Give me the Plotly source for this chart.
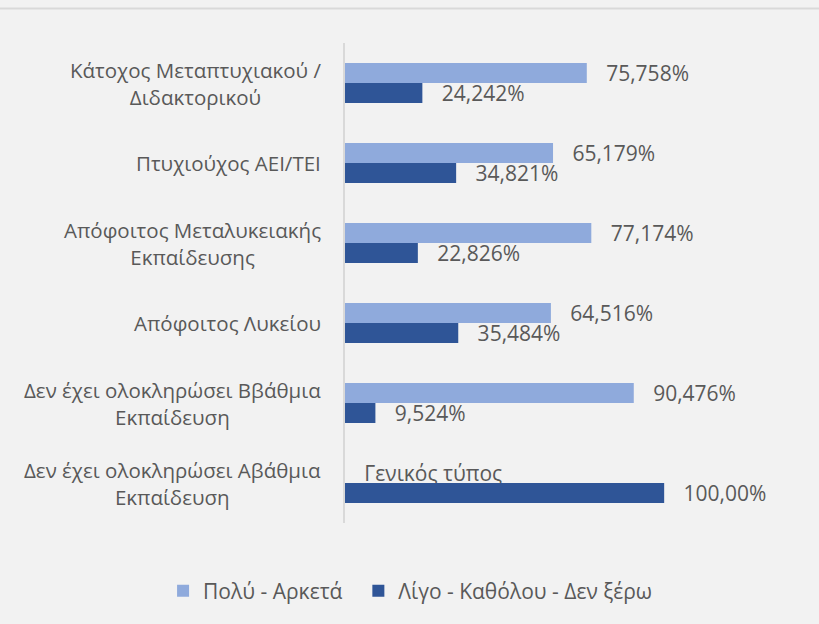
import plotly.graph_objects as go

categories = [
    "Κάτοχος Μεταπτυχιακού /<br>Διδακτορικού",
    "Πτυχιούχος ΑΕΙ/ΤΕΙ",
    "Απόφοιτος Μεταλυκειακής<br>Εκπαίδευσης",
    "Απόφοιτος Λυκείου",
    "Δεν έχει ολοκληρώσει Ββάθμια<br>Εκπαίδευση",
    "Δεν έχει ολοκληρώσει Αβάθμια<br>Εκπαίδευση",
]
cat_keys = ["c1", "c2", "c3", "c4", "c5", "c6"]

series_names = ["Πολύ - Αρκετά", "Λίγο - Καθόλου - Δεν ξέρω"]
values_much = [75.758, 65.179, 77.174, 64.516, 90.476, 0]
values_little = [24.242, 34.821, 22.826, 35.484, 9.524, 100.0]
labels_much = ["75,758%", "65,179%", "77,174%", "64,516%", "90,476%", "Γενικός τύπος"]
labels_little = ["24,242%", "34,821%", "22,826%", "35,484%", "9,524%", "100,00%"]

colors = ["#8FAADC", "#2F5597"]
FONT = "Open Sans"
TXT = "#595959"
pad = "\u00a0\u00a0\u00a0"
legend_pad = ["\u00a0\u00a0", ""]

fig = go.Figure()
for name, vals, labs, col, lp in [
    (series_names[0], values_much, labels_much, colors[0], legend_pad[0]),
    (series_names[1], values_little, labels_little, colors[1], legend_pad[1]),
]:
    fig.add_trace(go.Bar(
        y=cat_keys, x=vals, orientation="h", name=name + lp,
        marker=dict(color=col, line=dict(width=0)),
        text=[pad + t for t in labs], textposition="outside",
        textfont=dict(family=FONT, size=21, color=TXT),
        constraintext="none", cliponaxis=False, hoverinfo="skip",
    ))

for key, lab in zip(cat_keys, categories):
    fig.add_annotation(
        x=0, xref="paper", y=key, yref="y", text=lab, showarrow=False,
        xanchor="right", yanchor="middle", align="center", xshift=-22,
        font=dict(family=FONT, size=20.5, color=TXT),
    )

fig.add_shape(type="line", xref="paper", yref="paper", x0=-2, x1=2,
              y0=1 + 34.5 / 480, y1=1 + 34.5 / 480,
              line=dict(color="#D9D9D9", width=2))

fig.update_layout(
    width=819, height=624,
    margin=dict(l=345, r=91, t=43, b=101),
    paper_bgcolor="#F2F2F2", plot_bgcolor="#F2F2F2",
    barmode="group", bargap=0.5, bargroupgap=0,
    showlegend=True,
    legend=dict(orientation="h", x=-0.475, xanchor="left", y=-0.142, yanchor="middle",
                font=dict(family=FONT, size=21, color=TXT), traceorder="normal",
                itemwidth=30),
    xaxis=dict(range=[0, 120], showgrid=False, zeroline=False, showticklabels=False,
               showline=False, ticks=""),
    yaxis=dict(autorange="reversed", showticklabels=False, showgrid=False, ticks="",
               showline=True, linecolor="#D9D9D9", linewidth=1.5, zeroline=False),
)

fig.write_html(
    "out.html",
    config={"displayModeBar": False},
    post_script="document.body.style.margin='0';document.body.style.background='#F2F2F2';",
)
